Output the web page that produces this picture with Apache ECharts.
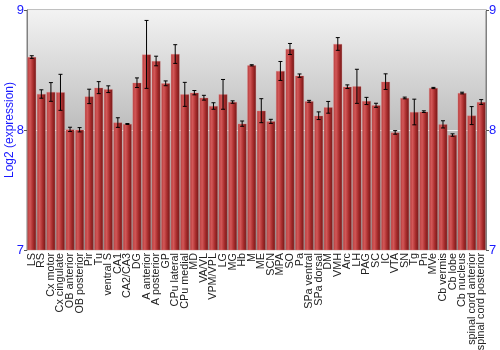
<!DOCTYPE html>
<html>
<head>
<meta charset="utf-8">
<script src="https://cdn.jsdelivr.net/npm/echarts@6/dist/echarts.min.js"></script>
<style>html,body{margin:0;padding:0;background:#fff}#c{width:500px;height:350px}</style>
</head>
<body>
<div id="c"></div>
<script>
var categories = ["LS","RS","Cx motor","Cx cingulate","OB anterior","OB posterior","Pir","Tu","ventral S","CA1","CA2/CA3","DG","A anterior","A posterior","GP","CPu lateral","CPu medial","MD","VA/VL","VPM/VPL","LG","MG","Hb","M","ME","SCN","MPA","SO","Pa","SPa ventral","SPa dorsal","DM","VMH","Arc","LH","PAG","SC","IC","VTA","SN","Tg","Pn","MVe","Cb vermis","Cb lobe","Cb nucleus","spinal cord anterior","spinal cord posterior"];
var values = [8.608,8.30,8.317,8.314,8.005,8.002,8.28,8.353,8.34,8.062,8.05,8.394,8.63,8.575,8.389,8.633,8.297,8.311,8.269,8.20,8.297,8.233,8.053,8.539,8.161,8.072,8.492,8.675,8.453,8.239,8.119,8.189,8.717,8.361,8.364,8.242,8.206,8.403,7.98,8.267,8.15,8.153,8.35,8.047,7.958,8.308,8.12,8.233];
var errors = [0.011,0.035,0.078,0.15,0.018,0.018,0.06,0.05,0.028,0.04,0.004,0.04,0.283,0.04,0.02,0.078,0.10,0.018,0.02,0.027,0.124,0.01,0.022,0.005,0.10,0.017,0.079,0.046,0.014,0.008,0.032,0.049,0.053,0.015,0.142,0.03,0.017,0.065,0.015,0.007,0.107,0.007,0.005,0.03,0.01,0.007,0.075,0.02];
var yTicks = [7, 8, 9];

var errData = values.map(function (v, i) { return [i, v - errors[i], v + errors[i]]; });
var chart = echarts.init(document.getElementById('c'), null, {renderer: 'canvas'});
var blue = '#1a1aff';
function yAxisCfg(pos) {
  return {
    type: 'value', position: pos, min: yTicks[0], max: yTicks[yTicks.length - 1], interval: 1,
    name: pos === 'left' ? 'Log2 (expression)' : '',
    nameLocation: 'middle', nameGap: 11, nameMoveOverlap: false,
    nameTextStyle: {color: blue, fontSize: 12, fontFamily: 'Liberation Sans'},
    axisLine: {show: true, lineStyle: {color: '#808080', width: 1}},
    axisTick: {show: true, length: 3, lineStyle: {color: '#555'}},
    axisLabel: {color: blue, fontSize: 13, margin: 3, fontFamily: 'Liberation Sans'},
    splitLine: {show: pos === 'left', lineStyle: {color: 'rgba(255,255,255,0.8)', width: 1}}
  };
}
chart.setOption({
  animation: false,
  grid: {
    left: 27, right: 14, top: 10, bottom: 100, show: true, containLabel: false, outerBoundsMode: 'none',
    borderColor: '#808080', borderWidth: 1,
    backgroundColor: new echarts.graphic.LinearGradient(0, 0, 0, 1, [
      {offset: 0, color: '#f3f3f3'}, {offset: 1, color: '#868686'}
    ])
  },
  xAxis: {
    type: 'category', data: categories,
    axisLine: {show: false}, axisTick: {show: false},
    axisLabel: {rotate: 90, interval: 0, fontSize: 10.8, color: '#222', margin: 3, fontFamily: 'Liberation Sans'}
  },
  yAxis: [yAxisCfg('left'), yAxisCfg('right')],
  series: [{
    type: 'bar', data: values, barCategoryGap: '8%',
    itemStyle: {
      color: new echarts.graphic.LinearGradient(0, 0, 1, 0, [
        {offset: 0, color: '#b33a3a'}, {offset: 0.3, color: '#d35858'},
        {offset: 0.65, color: '#a82c2c'}, {offset: 1, color: '#6e1616'}
      ]),
      borderColor: 'rgba(230,140,140,0.6)', borderWidth: 0.5
    }
  }, {
    type: 'custom', data: errData, z: 10,
    renderItem: function (params, api) {
      var x = api.value(0);
      var lo = api.coord([x, api.value(1)]);
      var hi = api.coord([x, api.value(2)]);
      var w = 2;
      var st = {stroke: '#000', lineWidth: 1};
      return {type: 'group', children: [
        {type: 'line', shape: {x1: lo[0], y1: lo[1], x2: hi[0], y2: hi[1]}, style: st},
        {type: 'line', shape: {x1: lo[0] - w, y1: lo[1], x2: lo[0] + w, y2: lo[1]}, style: st},
        {type: 'line', shape: {x1: hi[0] - w, y1: hi[1], x2: hi[0] + w, y2: hi[1]}, style: st}
      ]};
    },
    encode: {x: 0, y: [1, 2]}
  }]
});
</script>
</body>
</html>
